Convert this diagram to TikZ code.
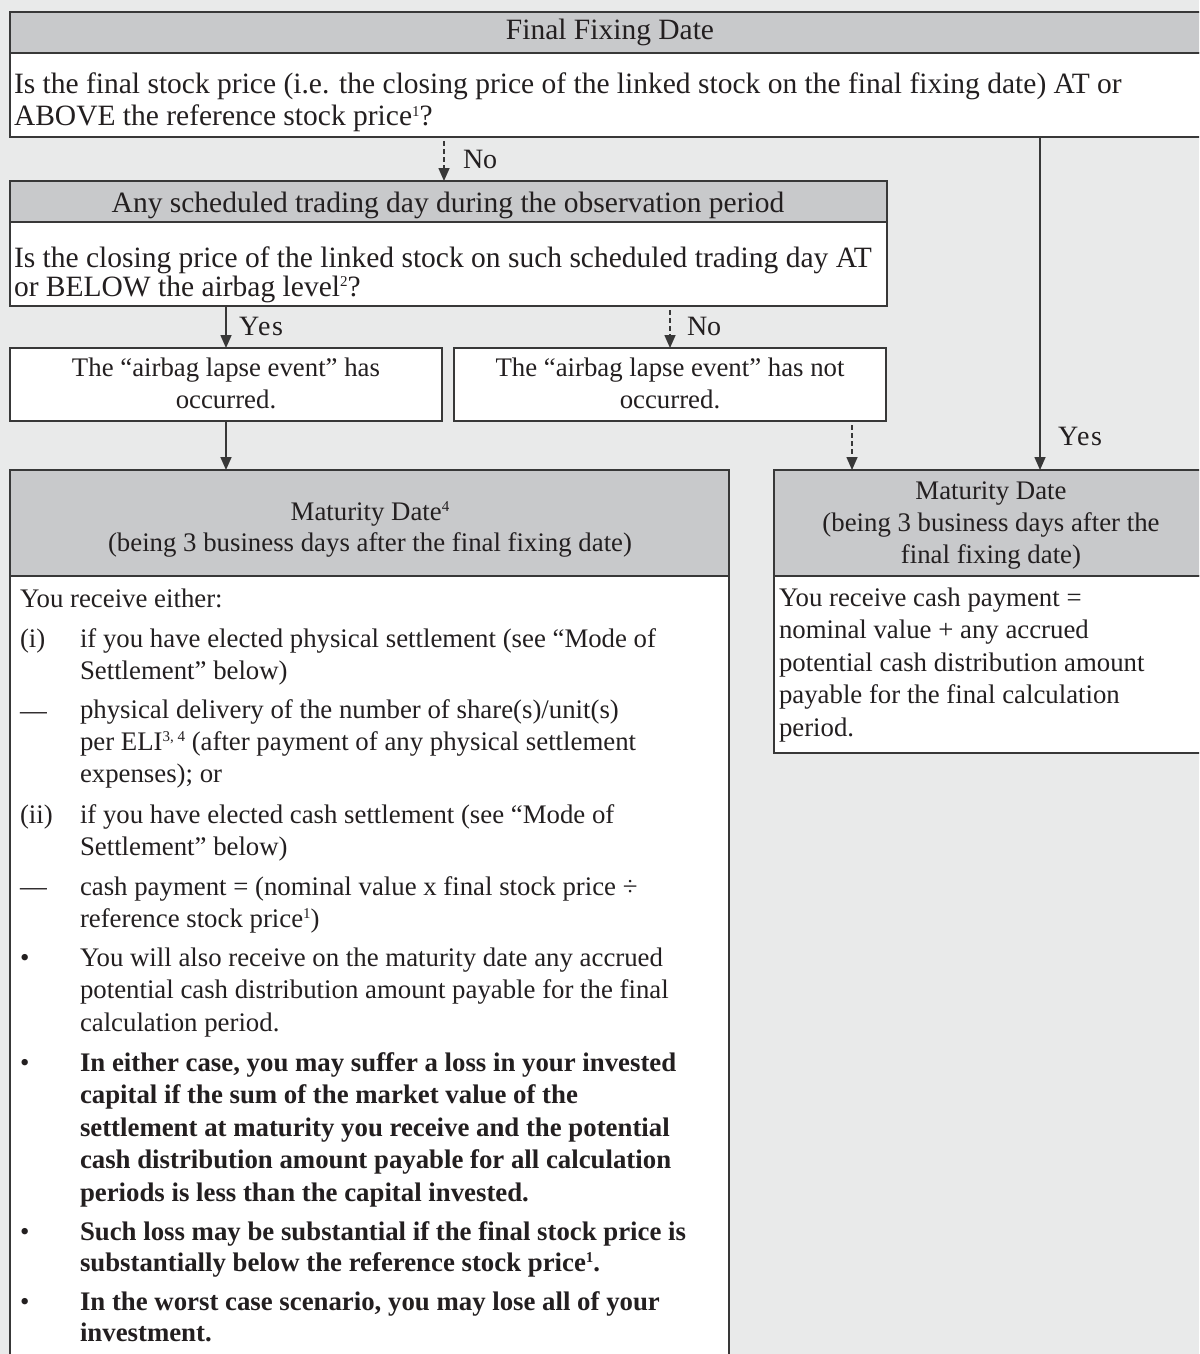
\documentclass[tikz,border=0pt]{standalone}
\usepackage{fontspec}
\setmainfont{Liberation Serif}
\usetikzlibrary{arrows.meta}
\definecolor{bgc}{HTML}{E9EAEA}
\definecolor{hdc}{HTML}{C8C9CB}
\definecolor{lnc}{HTML}{383838}
\definecolor{txc}{HTML}{231F20}
\newcommand\msup[1]{\raisebox{0.72ex}{\fontsize{7.5}{8}\selectfont #1}}
\tikzset{
 frame/.style={draw=lnc, line width=0.8pt, anchor=north west, inner sep=0pt, outer sep=0pt},
 hdr/.style={frame, fill=hdc},
 bodybox/.style={frame, fill=white},
 txt/.style={inner sep=0pt, outer sep=0pt, text=txc, font=\fontsize{13.4}{16}\selectfont},
 bigtxt/.style={font=\fontsize{14.75}{16}\selectfont},
 ltxt/.style={txt, anchor=base west, align=left},
 ctxt/.style={txt, anchor=base, align=center},
 lbl/.style={txt, anchor=base west, font=\fontsize{14}{16}\selectfont},
 conn/.style={draw=lnc, line width=0.8pt, -{Triangle[length=6.5pt,width=5.5pt]}},
 dconn/.style={conn, dash pattern=on 2.5pt off 1.5pt},
}
\begin{document}
\begin{tikzpicture}[x=0.5pt,y=-0.5pt]
\path[use as bounding box, fill=bgc] (0,0) rectangle (1199,1354);
\clip (0,0) rectangle (1199,1354);
% boxes
\node[hdr, minimum width=600pt, minimum height=20.5pt] (topH) at (10,12) {};
\node[bodybox, minimum width=600pt, minimum height=42pt] (topB) at (10,53) {};
\node[hdr, minimum width=438.5pt, minimum height=20.5pt] (b2H) at (10,181) {};
\node[bodybox, minimum width=438.5pt, minimum height=42pt] (b2B) at (10,222) {};
\node[bodybox, minimum width=216pt, minimum height=36.5pt] (b3a) at (10,348) {};
\node[bodybox, minimum width=216pt, minimum height=36.5pt] (b3b) at (454,348) {};
\node[hdr, minimum width=359.5pt, minimum height=53pt] (m1H) at (10,470) {};
\node[bodybox, minimum width=359.5pt, minimum height=420pt] (m1B) at (10,576) {};
\node[hdr, minimum width=218pt, minimum height=53pt] (m2H) at (774,470) {};
\node[bodybox, minimum width=218pt, minimum height=88.5pt] (m2B) at (774,576) {};
% texts (anchor = baseline of the last line)
\node[ctxt, bigtxt] (tTopH) at (610,40) {Final Fixing Date};
\node[ltxt, bigtxt] (tTopB) at (14,126) {Is the final stock price (i.e. the closing price of the linked stock on the final fixing date) AT or\\ABOVE the reference stock price\msup{1}?};
\node[ctxt, bigtxt] (tB2H) at (448,212) {Any scheduled trading day during the observation period};
\node[ltxt, font=\fontsize{14.75}{14.5}\selectfont] (tB2B) at (14,296) {Is the closing price of the linked stock on such scheduled trading day AT\\or BELOW the airbag level\msup{2}?};
\node[ctxt] (tB3a) at (226,408) {The “airbag lapse event” has\\occurred.};
\node[ctxt] (tB3b) at (670,408) {The “airbag lapse event” has not\\occurred.};
\node[ctxt, font=\fontsize{13.4}{15.5}\selectfont] (tM1H) at (370,551) {Maturity Date\msup{4}\\(being 3 business days after the final fixing date)};
\node[ctxt] (tM2H) at (991,563) {Maturity Date\\(being 3 business days after the\\final fixing date)};
\node[ltxt, font=\fontsize{13.4}{16.25}\selectfont] (tM2B) at (779,736) {You receive cash payment =\\nominal value + any accrued\\potential cash distribution amount\\payable for the final calculation\\period.};
% left body
\node[ltxt] (r0) at (20,607) {You receive either:};
\node[ltxt] (l1) at (20,647) {(i)};
\node[ltxt] (r1) at (80,679) {if you have elected physical settlement (see “Mode of\\Settlement” below)};
\node[ltxt] (l2) at (20,719) {—};
\node[ltxt] (r2) at (80,782) {physical delivery of the number of share(s)/unit(s)\\per ELI\msup{3, 4} (after payment of any physical settlement\\expenses); or};
\node[ltxt] (l3) at (20,823) {(ii)};
\node[ltxt] (r3) at (80,855) {if you have elected cash settlement (see “Mode of\\Settlement” below)};
\node[ltxt] (l4) at (20,895) {—};
\node[ltxt] (r4) at (80,927) {cash payment = (nominal value x final stock price ÷\\reference stock price\msup{1})};
\node[ltxt] (l5) at (20,966) {•};
\node[ltxt, font=\fontsize{13.4}{16.25}\selectfont] (r5) at (80,1031) {You will also receive on the maturity date any accrued\\potential cash distribution amount payable for the final\\calculation period.};
\node[ltxt] (l6) at (20,1071) {•};
\node[ltxt, font=\fontsize{13.4}{16.25}\selectfont\bfseries] (r6) at (80,1201) {In either case, you may suffer a loss in your invested\\capital if the sum of the market value of the\\settlement at maturity you receive and the potential\\cash distribution amount payable for all calculation\\periods is less than the capital invested.};
\node[ltxt] (l7) at (20,1240) {•};
\node[ltxt, font=\fontsize{13.4}{15.5}\selectfont\bfseries] (r7) at (80,1271) {Such loss may be substantial if the final stock price is\\substantially below the reference stock price\msup{1}.};
\node[ltxt] (l8) at (20,1310) {•};
\node[ltxt, font=\fontsize{13.4}{15.5}\selectfont\bfseries] (r8) at (80,1341) {In the worst case scenario, you may lose all of your\\investment.};
% connectors
\coordinate (noA) at (444,0);
\coordinate (noB) at (852,0);
\coordinate (yesX) at (1040,0);
\draw[dconn, shorten <=2pt] (topB.south -| noA) -- (b2H.north -| noA);
\draw[conn] (b2B.south -| b3a.north) -- (b3a.north);
\draw[dconn, shorten <=2pt] (b2B.south -| b3b.north) -- (b3b.north);
\draw[conn] (b3a.south) -- (m1H.north -| b3a.south);
\draw[dconn, shorten <=2pt] (b3b.south -| noB) -- (m2H.north -| noB);
\draw[conn] (topB.south -| yesX) -- (m2H.north -| yesX);
% labels
\node[lbl] (lbNo1) at (463,169) {No};
\node[lbl, font=\fontsize{14}{16}\selectfont\addfontfeature{LetterSpace=6}] (lbYes1) at (239,335) {Yes};
\node[lbl] (lbNo2) at (687,335) {No};
\node[lbl, font=\fontsize{14}{16}\selectfont\addfontfeature{LetterSpace=6}] (lbYes2) at (1058,445) {Yes};
\end{tikzpicture}
\end{document}
